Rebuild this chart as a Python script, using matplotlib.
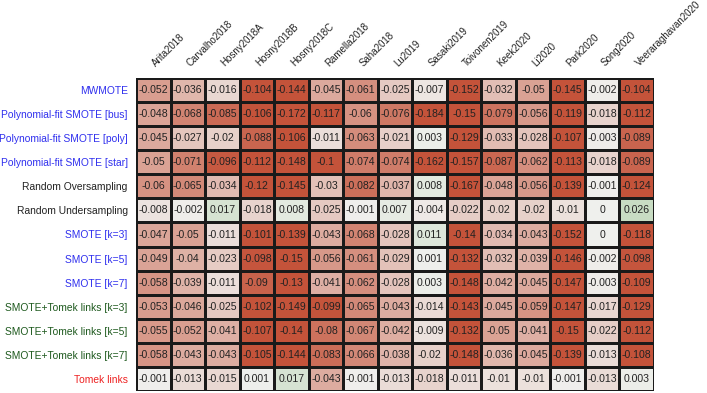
import matplotlib
matplotlib.use("Agg")
import matplotlib.pyplot as plt
import matplotlib.transforms as mtransforms
import numpy as np
from matplotlib.colors import LinearSegmentedColormap

plt.rcParams['font.family'] = ['Liberation Sans', 'DejaVu Sans']

studies = ["Arita2018", "Carvalho2018", "Hosny2018A", "Hosny2018B", "Hosny2018C",
           "Ramella2018", "Saha2018", "Lu2019", "Sasaki2019", "Toivonen2019",
           "Keek2020", "Li2020", "Park2020", "Song2020", "Veeraraghavan2020"]

methods = ["MWMOTE", "Polynomial-fit SMOTE [bus]", "Polynomial-fit SMOTE [poly]",
           "Polynomial-fit SMOTE [star]", "Random Oversampling", "Random Undersampling",
           "SMOTE [k=3]", "SMOTE [k=5]", "SMOTE [k=7]",
           "SMOTE+Tomek links [k=3]", "SMOTE+Tomek links [k=5]", "SMOTE+Tomek links [k=7]",
           "Tomek links"]

label_colors = ["#3030ee", "#3030ee", "#3030ee", "#3030ee", "#222222", "#222222",
                "#3030ee", "#3030ee", "#3030ee", "#1f5a1f", "#1f5a1f", "#1f5a1f", "#ee2222"]

values = [
    [-0.052, -0.036, -0.016, -0.104, -0.144, -0.045, -0.061, -0.025, -0.007, -0.152, -0.032, -0.05, -0.145, -0.002, -0.104],
    [-0.048, -0.068, -0.085, -0.106, -0.172, -0.117, -0.06, -0.076, -0.184, -0.15, -0.079, -0.056, -0.119, -0.018, -0.112],
    [-0.045, -0.027, -0.02, -0.088, -0.106, -0.011, -0.063, -0.021, 0.003, -0.129, -0.033, -0.028, -0.107, -0.003, -0.089],
    [-0.05, -0.071, -0.096, -0.112, -0.148, -0.1, -0.074, -0.074, -0.162, -0.157, -0.087, -0.062, -0.113, -0.018, -0.089],
    [-0.06, -0.065, -0.034, -0.12, -0.145, -0.03, -0.082, -0.037, 0.008, -0.167, -0.048, -0.056, -0.139, -0.001, -0.124],
    [-0.008, -0.002, 0.017, -0.018, 0.008, -0.025, -0.001, 0.007, -0.004, -0.022, -0.02, -0.02, -0.01, 0, 0.026],
    [-0.047, -0.05, -0.011, -0.101, -0.139, -0.043, -0.068, -0.028, 0.011, -0.14, -0.034, -0.043, -0.152, 0, -0.118],
    [-0.049, -0.04, -0.023, -0.098, -0.15, -0.056, -0.061, -0.029, 0.001, -0.132, -0.032, -0.039, -0.146, -0.002, -0.098],
    [-0.058, -0.039, -0.011, -0.09, -0.13, -0.041, -0.062, -0.028, 0.003, -0.148, -0.042, -0.045, -0.147, -0.003, -0.109],
    [-0.053, -0.046, -0.025, -0.102, -0.149, -0.099, -0.065, -0.043, -0.014, -0.143, -0.045, -0.059, -0.147, -0.017, -0.129],
    [-0.055, -0.052, -0.041, -0.107, -0.14, -0.08, -0.067, -0.042, -0.009, -0.132, -0.05, -0.041, -0.15, -0.022, -0.112],
    [-0.058, -0.043, -0.043, -0.105, -0.144, -0.083, -0.066, -0.038, -0.02, -0.148, -0.036, -0.045, -0.139, -0.013, -0.108],
    [-0.001, -0.013, -0.015, 0.001, 0.017, -0.043, -0.001, -0.013, -0.018, -0.011, -0.01, -0.01, -0.001, -0.013, 0.003],
]

data = np.array(values)
cmap = LinearSegmentedColormap.from_list("rg", ["#c4533a", "#f0f0ee", "#56a349"])

fig = plt.figure(figsize=(7.07, 3.93), dpi=100)
ax = fig.add_axes([136/707, 2/393, (654-136)/707, (391-78)/393])
ax.pcolormesh(data, cmap=cmap, vmin=-0.1, vmax=0.1, edgecolors="#1a1a1a", linewidth=1.0)
ax.set_xlim(0, data.shape[1])
ax.set_ylim(data.shape[0], 0)

for i in range(data.shape[0]):
    for j in range(data.shape[1]):
        ax.text(j + 0.5, i + 0.5, f"{data[i, j]:g}", ha="center", va="center",
                fontsize=7.6, color="#222222")

# column labels, rotated 45 degrees above the grid
off = mtransforms.ScaledTranslation(3/100, 11/100, fig.dpi_scale_trans)
for j, name in enumerate(studies):
    ax.text(j + 0.5, 0, name, transform=ax.transData + off, rotation=45,
            rotation_mode="anchor", ha="left", va="baseline", fontsize=7.0,
            color="#222222", clip_on=False)
ax.set_xticks([])

ax.set_yticks(np.arange(data.shape[0]) + 0.5)
ax.set_yticklabels(methods, fontsize=7.4)
for t, c in zip(ax.get_yticklabels(), label_colors):
    t.set_color(c)
ax.tick_params(length=0)
ax.tick_params(axis="y", pad=6)
for s in ax.spines.values():
    s.set_visible(False)

fig.savefig("out.png", dpi=100)
